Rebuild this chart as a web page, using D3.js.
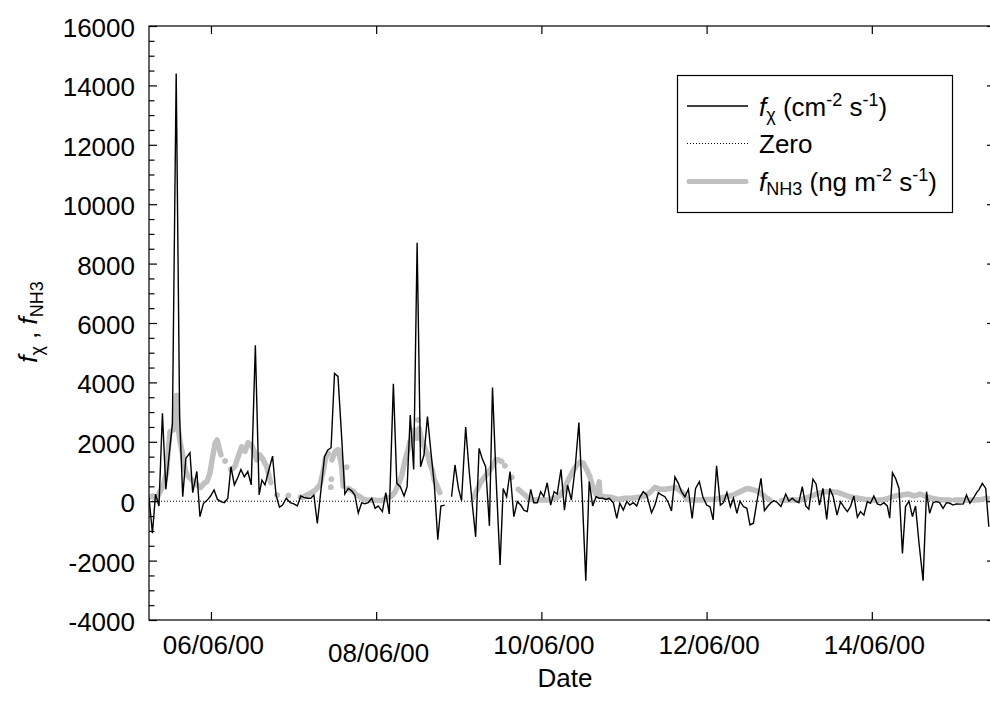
<!DOCTYPE html>
<html>
<head>
<meta charset="utf-8">
<script src="https://cdn.jsdelivr.net/npm/d3@7"></script>
<style>
  html, body { margin: 0; padding: 0; background: #fff; }
  svg { display: block; font-family: "Liberation Sans", Arial, Helvetica, sans-serif; }
  .axis text { font-size: 26px; font-family: "Liberation Sans", Arial, Helvetica, sans-serif; fill: #000; }
  .axis line { stroke: #000; stroke-width: 1.2; }
  text { white-space: pre; }
</style>
</head>
<body>
<svg id="chart" width="990" height="716"></svg>
<script>
// Hours after 05/06/00 06:00 and the scalar flux f_chi (cm-2 s-1); null marks a gap
const fxHours = [
  0.0, 1.0, 1.9, 2.9, 3.9, 4.9, 5.8, 6.8, 7.9, 8.9,
  9.8, 10.7, 11.9, 12.7, 13.9, 14.8, 15.8, 16.8, 17.9, 18.9,
  19.9, 20.9, 21.9, 22.9, 23.8, 24.8, 25.8, 26.7, 27.7, 28.7,
  29.7, 30.9, 32.0, 32.8, 33.7, 34.7, 35.9, 36.9, 37.9, 38.8,
  39.9, 41.0, 42.1, 43.1, 44.1, 45.0, 46.0, 47.0, 47.9, 48.9,
  50.0, 51.0, 51.9, 52.9, 53.9, 54.9, 55.9, 56.9, 57.9, 58.9,
  59.8, 60.8, 61.8, 62.7, 63.7, 64.7, 65.7, 66.6, 67.8, 68.8,
  69.8, 71.0, 72.0, 73.0, 74.1, 75.0, 75.9, 76.9, 77.9, 78.9,
  79.9, 80.9, 81.9, 82.9, 83.9, 84.8, 85.9, 86.9, 87.9, 88.9,
  89.9, 90.8, 92.0, 93.0, 93.9, 94.9, 95.9, 96.8, 97.8, 98.9,
  99.8, 100.8, 102.0, 102.9, 103.9, 104.9, 106.0, 107.0, 108.0, 108.9,
  109.9, 110.9, 111.8, 112.8, 113.8, 114.7, 115.7, 116.7, 117.7, 118.6,
  119.7, 120.7, 121.6, 122.7, 123.8, 124.9, 125.9, 126.9, 127.9, 128.9,
  129.9, 130.8, 131.8, 132.8, 133.7, 134.9, 135.9, 136.8, 137.8, 138.8,
  139.7, 140.7, 141.7, 142.6, 143.6, 144.6, 146.0, 147.0, 148.0, 148.9,
  149.9, 150.9, 151.8, 152.8, 153.8, 154.7, 155.7, 156.7, 157.8, 158.8,
  159.9, 160.9, 162.0, 163.0, 163.9, 164.9, 166.0, 166.9, 167.9, 168.9,
  169.8, 170.8, 171.7, 172.7, 173.7, 174.6, 175.6, 176.7, 177.8, 178.8,
  179.7, 180.7, 181.6, 182.6, 183.6, 185.0, 185.9, 186.9, 187.9, 188.8,
  189.8, 190.8, 191.7, 192.9, 193.8, 194.8, 195.8, 196.9, 197.8, 198.8,
  199.9, 200.9, 201.9, 202.9, 203.8, 204.8, 205.8, 206.7, 207.7, 208.7,
  209.6, 210.6, 211.6, 212.6, 213.5, 214.5, 215.2, 216.0, 216.9, 217.9,
  218.9, 219.8, 220.8, 221.8, 222.7, 223.7, 224.9, 225.9, 226.8, 227.8,
  228.8, 229.7, 230.7, 231.7, 232.7, 233.6, 234.6, 235.6, 236.6, 237.5,
  238.5, 239.5, 240.5, 241.2, 242.1, 243.1, 244.0
];
const fxValues = [
  120, -1080, 240, -160, 2960, 400, 1500, 2600, 14400, 2800,
  150, 1440, 1630, 290, 1000, -520, -80, 20, 175, 380,
  60, -15, -50, 100, 1160, 550, 800, 1070, 820, 1000,
  550, 5250, 210, 710, 550, 1000, 1520, 210, -200, -130,
  100, -50, -90, -160, 175, 130, 100, 100, 210, -750,
  420, 1500, 1720, 1800, 4300, 4200, 2300, 240, 430, 350,
  210, -400, -50, -90, -50, 100, -240, -160, -350, 290,
  -430, 3950, 600, 490, 175, 490, 2900, 1070, 8700, 1160,
  1560, 2850, 1670, 550, -1300, -160, -130, null, 150, 1220,
  430, 20, 2500, 1050, -70, -1200, 1780, 1440, 1160, -830,
  3830, 880, -2150, 430, 150, 1000, -520, -15, -130, -300,
  -350, 400, -50, -50, 320, 150, 620, -130, 320, 240,
  1070, -300, 545, 40, 1100, 2650, 100, -2675, 660, -160,
  150, 100, 100, 60, 100, -50, -580, -70, -300, -15,
  -130, -50, -160, 130, 320, 210, -390, -130, 290, 210,
  150, -50, -330, 820, 600, 320, 150, 400, -580, 430,
  660, 150, -130, -190, -630, 1190, -130, -50, 290, -190,
  100, -410, 0, -180, -240, -800, -740, 40, 770, -320,
  -180, -50, 20, -50, -180, 240, 0, 100, 0, -50,
  490, -160, -270, 740, 580, -130, 430, -610, 430, 150,
  -470, -15, -200, -350, -180, 175, -540, -350, -470, -15,
  -70, 175, -90, -130, -50, -160, -570, 960, 770, 430,
  -1760, -180, 0, -520, -160, -1400, -2675, 320, -410, -50,
  -15, -50, -240, -50, -70, -130, -90, -100, -90, 210,
  -70, 100, 300, 400, 600, 430, -860
];

// Hours after 05/06/00 06:00 and the ammonia flux f_NH3 (ng m-2 s-1); null marks a gap
const nh3Hours = [
  0.0, 0.6, 1.2, 2.2, 3.2, 4.2, 5.1, 5.6, 6.1, 7.1,
  7.6, 8.0, 8.5, 9.0, 9.8, 10.5, 11.4, 12.1, 12.9, 14.0,
  15.0, 16.0, 16.8, 17.7, 18.5, 19.2, 19.8, 20.4, 20.9, 21.5,
  22.1, 22.9, 23.7, 24.4, 25.0, 25.9, 26.9, 27.9, 28.8, 29.8,
  30.5, 31.3, 32.2, 33.2, 34.2, 34.9, 35.4, 36.3, 37.2, 38.8,
  40.5, 42.2, 43.9, 44.8, 45.8, 46.8, 47.7, 48.7, 49.7, 50.6,
  51.3, 52.1, 52.5, 52.8, 52.9, 53.0, 53.05, 53.1, 54.1, 55.0,
  56.0, 56.4, 56.9, 57.4, 57.6, 57.9, 59.4, 60.3, 61.3, 62.3,
  63.2, 64.2, 65.2, 66.6, 67.6, 69.1, 70.5, 71.5, 72.4, 73.4,
  74.4, 75.2, 75.8, 76.5, 77.1, 77.8, 78.0, 78.2, 78.4, 78.5,
  79.2, 80.0, 81.0, 81.6, 82.3, 82.9, 83.6, 84.5, 89.0, 94.2,
  95.2, 96.2, 97.1, 98.1, 99.1, 100.0, 100.8, 101.7, 102.5, 103.0,
  103.4, 104.4, 105.4, 106.4, 107.3, 108.3, 109.2, 110.2, 111.2, 112.1,
  114.1, 116.0, 117.5, 118.4, 119.4, 120.4, 121.3, 122.3, 123.3, 124.2,
  125.2, 126.2, 127.2, 128.1, 128.9, 129.6, 130.0, 130.8, 131.0, 132.5,
  134.4, 136.3, 138.3, 140.2, 142.1, 144.1, 145.5, 147.0, 148.5, 149.9,
  151.4, 152.9, 154.0, 155.2, 156.2, 158.1, 160.1, 162.0, 163.9, 165.9,
  167.8, 169.8, 171.7, 173.7, 175.1, 176.6, 178.0, 179.5, 180.4, 182.0,
  183.8, 185.7, 187.7, 189.1, 190.6, 192.5, 194.4, 196.4, 198.3, 200.3,
  202.2, 204.1, 206.1, 208.0, 209.9, 211.9, 213.8, 214.8, 216.7, 218.7,
  220.6, 222.5, 224.0, 225.4, 227.4, 229.3, 231.2, 232.7, 233.4, 234.1,
  236.1, 238.0, 240.0, 241.9, 243.4, 244.3
];
const nh3Values = [
  130, 160, 175, 60, 320, 545, 940, 1720, 2340, 2400,
  2800, 3570, 2460, 2010, 1560, 1050, 825, 760, 660, 545,
  465, 600, 660, 940, 1500, 1950, 2060, 1780, 1560, null,
  1350, null, 1070, 1100, 1190, 1500, 1830, 1680, 1970, 1890,
  1700, 1390, 1560, 1390, 1160, 825, 620, null, 210, null,
  190, null, 140, 130, 210, 260, 320, 420, 560, 1000,
  1450, 1610, null, 470, null, 740, null, 1390, 1680, 1740,
  1160, 510, null, 1140, null, 430, 320, 210, 150, 60,
  40, 30, 40, 20, 20, 100, 175, 320, 545, 850,
  1385, 1720, 2000, 2060, 2400, 2120, null, 2730, null, 2450,
  2060, 1830, 1550, 1270, 1050, 710, 540, 290, null, 120,
  350, 600, 750, 900, 1050, 1220, 1400, 1385, 1330, null,
  1190, null, 810, null, 400, 300, 210, 100, 60, 50,
  40, 40, 100, 120, 200, 350, 580, 825, 1050, 1200,
  1320, 1280, 1050, 825, 490, 300, 210, 650, 175, 150,
  130, 60, 100, 100, 130, 175, 290, 465, 400, 400,
  430, 465, 380, 265, 60, 40, 40, 60, 60, 100,
  150, 210, 320, 430, 400, 350, 240, 100, 40, null,
  20, 40, 40, 40, 100, 175, 265, 320, 320, 290,
  210, 130, 100, 60, 40, 30, 60, 100, 175, 210,
  240, 175, 240, 175, 100, 60, 40, 40, null, 40,
  40, 30, 40, 60, 100, 70
];

const yTicks = [-4000, -2000, 0, 2000, 4000, 6000, 8000, 10000, 12000, 14000, 16000];
const yMinorStep = 500;
const dateTicks = ["06/06/00", "08/06/00", "10/06/00", "12/06/00", "14/06/00"];

const GRAY = "#c0c0c0";
const frame = { left: 149, right: 994, top: 26, bottom: 620 };

const start = new Date(2000, 5, 5, 6, 0, 0);
const atHour = h => new Date(start.getTime() + h * 3600e3);
const parseDay = d3.timeParse("%d/%m/%y");
const fmtDay = d3.timeFormat("%d/%m/%y");

const x = d3.scaleTime()
  .domain([start, atHour(245.5)])
  .range([frame.left, frame.right]);
const y = d3.scaleLinear()
  .domain([-4000, 16000])
  .range([frame.bottom, frame.top]);

const fx = fxHours.map((h, i) => ({ t: atHour(h), v: fxValues[i] }));
const nh3 = nh3Hours.map((h, i) => ({ t: atHour(h), v: nh3Values[i] }));

const svg = d3.select("#chart");

svg.append("defs").append("clipPath").attr("id", "plotArea")
  .append("rect")
  .attr("x", frame.left).attr("y", frame.top)
  .attr("width", frame.right - frame.left).attr("height", frame.bottom - frame.top);

const plot = svg.append("g").attr("clip-path", "url(#plotArea)");

// dotted zero reference
plot.append("line")
  .attr("x1", frame.left).attr("x2", frame.right)
  .attr("y1", y(0)).attr("y2", y(0))
  .attr("stroke", "#000").attr("stroke-width", 1)
  .attr("stroke-dasharray", "1,2");

const line = d3.line()
  .defined(d => d.v !== null)
  .x(d => x(d.t))
  .y(d => y(d.v));

// NH3 flux: thick light-grey trace, lone readings as dots
plot.append("path")
  .datum(nh3)
  .attr("d", line)
  .attr("fill", "none")
  .attr("stroke", GRAY)
  .attr("stroke-width", 5.5)
  .attr("stroke-linecap", "round")
  .attr("stroke-linejoin", "round");

const lone = nh3.filter((d, i) =>
  d.v !== null &&
  (i === 0 || nh3[i - 1].v === null) &&
  (i === nh3.length - 1 || nh3[i + 1].v === null));
plot.selectAll("circle.lone")
  .data(lone)
  .join("circle")
  .attr("class", "lone")
  .attr("cx", d => x(d.t))
  .attr("cy", d => y(d.v))
  .attr("r", 2.75)
  .attr("fill", GRAY);

// f_chi: thin black trace on top
plot.append("path")
  .datum(fx)
  .attr("d", line)
  .attr("fill", "none")
  .attr("stroke", "#000")
  .attr("stroke-width", 1.4)
  .attr("stroke-linejoin", "miter");

// axes
const xTickDates = dateTicks.map(parseDay);

const gx = svg.append("g")
  .attr("class", "axis")
  .attr("transform", `translate(0,${frame.bottom})`)
  .call(d3.axisBottom(x)
    .tickValues(xTickDates)
    .tickFormat(fmtDay)
    .tickSize(-8)
    .tickSizeOuter(0)
    .tickPadding(15.5));
gx.select(".domain").remove();
gx.selectAll(".tick text").attr("dx", 2);
// the second date label sits one step lower
gx.selectAll(".tick text").filter((d, i) => i === 1).attr("transform", "translate(0,8)");

const gxTop = svg.append("g")
  .attr("class", "axis")
  .attr("transform", `translate(0,${frame.top})`)
  .call(d3.axisTop(x).tickValues(xTickDates).tickFormat("").tickSize(-8).tickSizeOuter(0));
gxTop.select(".domain").remove();

const gy = svg.append("g")
  .attr("class", "axis")
  .attr("transform", `translate(${frame.left},0)`)
  .call(d3.axisLeft(y)
    .tickValues(yTicks)
    .tickFormat(d => String(d))
    .tickSize(-8)
    .tickSizeOuter(0)
    .tickPadding(14));
gy.select(".domain").remove();
gy.selectAll(".tick text").attr("dy", "0.40em");

const minorVals = d3.range(-4000, 16001, yMinorStep).filter(v => !yTicks.includes(v));
const gyMinor = svg.append("g")
  .attr("class", "axis")
  .attr("transform", `translate(${frame.left},0)`)
  .call(d3.axisLeft(y).tickValues(minorVals).tickFormat("").tickSize(-5.5).tickSizeOuter(0));
gyMinor.select(".domain").remove();

const gyRight = svg.append("g")
  .attr("class", "axis")
  .attr("transform", `translate(${frame.right},0)`)
  .call(d3.axisRight(y).tickValues(yTicks).tickFormat("").tickSize(-7).tickSizeOuter(0));
gyRight.select(".domain").remove();

// frame
const border = svg.append("g").attr("stroke", "#000").attr("stroke-width", 1.2).attr("fill", "none");
border.append("rect")
  .attr("x", frame.left).attr("y", frame.top)
  .attr("width", frame.right - frame.left).attr("height", frame.bottom - frame.top);

// axis titles
svg.append("text")
  .attr("x", 565).attr("y", 687)
  .attr("text-anchor", "middle")
  .attr("font-size", 26)
  .text("Date");

const yTitle = svg.append("text")
  .attr("transform", "translate(37,322) rotate(-90)")
  .attr("text-anchor", "middle")
  .attr("font-size", 26);
yTitle.append("tspan").attr("font-style", "italic").text("f");
yTitle.append("tspan").attr("font-size", 18).attr("dy", 6).text("χ");
yTitle.append("tspan").attr("dy", -6).text(" , ");
yTitle.append("tspan").attr("font-style", "italic").text("f");
yTitle.append("tspan").attr("font-size", 18).attr("dy", 6).text("NH3");

// legend
const lg = svg.append("g");
lg.append("rect")
  .attr("x", 677.5).attr("y", 75.5)
  .attr("width", 275).attr("height", 137)
  .attr("fill", "#fff").attr("stroke", "#000").attr("stroke-width", 1.2);

const keyX1 = 687, keyX2 = 748, textX = 759;
const rowY = [106, 143.5, 181.5];

lg.append("line").attr("x1", keyX1).attr("x2", keyX2).attr("y1", rowY[0]).attr("y2", rowY[0])
  .attr("stroke", "#000").attr("stroke-width", 1.4);
lg.append("line").attr("x1", keyX1).attr("x2", keyX2).attr("y1", rowY[1]).attr("y2", rowY[1])
  .attr("stroke", "#000").attr("stroke-width", 1).attr("stroke-dasharray", "1,2");
lg.append("line").attr("x1", keyX1 + 2).attr("x2", keyX2 - 2).attr("y1", rowY[2]).attr("y2", rowY[2])
  .attr("stroke", GRAY).attr("stroke-width", 5).attr("stroke-linecap", "round");

const t1 = lg.append("text").attr("x", textX).attr("y", rowY[0] + 9.5).attr("font-size", 26);
t1.append("tspan").attr("font-style", "italic").text("f");
t1.append("tspan").attr("font-size", 18).attr("dy", 5).text("χ");
t1.append("tspan").attr("dy", -5).text(" (cm");
t1.append("tspan").attr("font-size", 18).attr("dy", -10).text("-2");
t1.append("tspan").attr("dy", 10).text(" s");
t1.append("tspan").attr("font-size", 18).attr("dy", -10).text("-1");
t1.append("tspan").attr("dy", 10).text(")");

lg.append("text").attr("x", textX).attr("y", rowY[1] + 9).attr("font-size", 26).text("Zero");

const t3 = lg.append("text").attr("x", textX).attr("y", rowY[2] + 9.5).attr("font-size", 26);
t3.append("tspan").attr("font-style", "italic").text("f");
t3.append("tspan").attr("font-size", 18).attr("dy", 4).text("NH3");
t3.append("tspan").attr("dy", -4).text(" (ng m");
t3.append("tspan").attr("font-size", 18).attr("dy", -10).text("-2");
t3.append("tspan").attr("dy", 10).text(" s");
t3.append("tspan").attr("font-size", 18).attr("dy", -10).text("-1");
t3.append("tspan").attr("dy", 10).text(")");
</script>
</body>
</html>
